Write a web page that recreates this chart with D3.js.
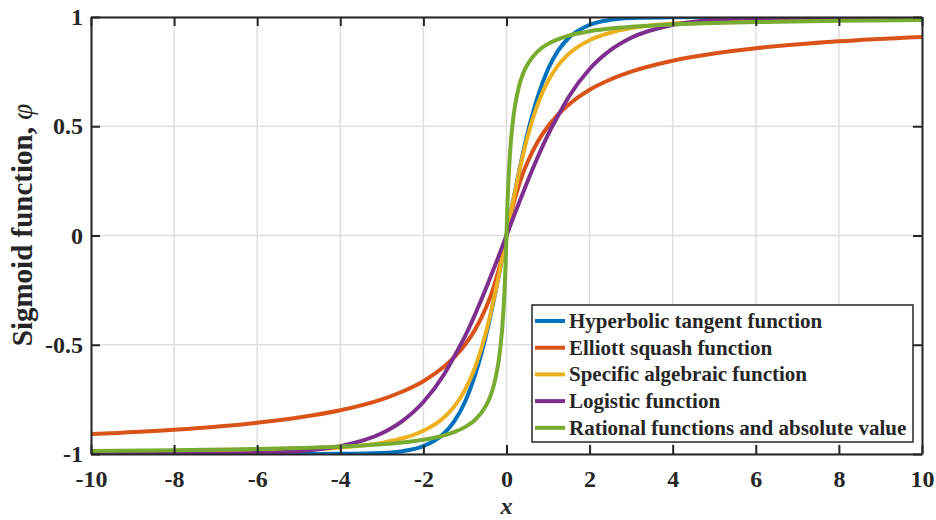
<!DOCTYPE html>
<html>
<head>
<meta charset="utf-8">
<script src="https://cdn.jsdelivr.net/npm/d3@7"></script>
<style>
  body { margin: 0; background: #fff; }
  svg text { font-family: "Liberation Serif", "Times New Roman", serif; font-weight: bold; fill: #262626; }
</style>
</head>
<body>
<svg id="chart" width="936" height="520"></svg>
<script>
// sample points along x
var xValues = [-10, -8, -6, -5, -4, -3, -2.5, -2, -1.5, -1.25, -1, -0.75, -0.5, -0.4, -0.3, -0.2, -0.15, -0.1, -0.05, -0.025,
  0, 0.025, 0.05, 0.1, 0.15, 0.2, 0.3, 0.4, 0.5, 0.75, 1, 1.25, 1.5, 2, 2.5, 3, 4, 5, 6, 8, 10];

var tanhValues = [-1, -1, -1, -1, -0.999, -0.995, -0.987, -0.964, -0.905, -0.848, -0.762, -0.635, -0.462, -0.38, -0.291, -0.197, -0.149, -0.1, -0.05, -0.025,
  0, 0.025, 0.05, 0.1, 0.149, 0.197, 0.291, 0.38, 0.462, 0.635, 0.762, 0.848, 0.905, 0.964, 0.987, 0.995, 0.999, 1, 1, 1, 1];

var elliottValues = [-0.909, -0.889, -0.857, -0.833, -0.8, -0.75, -0.714, -0.667, -0.6, -0.556, -0.5, -0.429, -0.333, -0.286, -0.231, -0.167, -0.13, -0.091, -0.048, -0.024,
  0, 0.024, 0.048, 0.091, 0.13, 0.167, 0.231, 0.286, 0.333, 0.429, 0.5, 0.556, 0.6, 0.667, 0.714, 0.75, 0.8, 0.833, 0.857, 0.889, 0.909];

var algebraicValues = [-0.995, -0.992, -0.986, -0.981, -0.97, -0.949, -0.928, -0.894, -0.832, -0.781, -0.707, -0.6, -0.447, -0.371, -0.287, -0.196, -0.148, -0.0995, -0.05, -0.025,
  0, 0.025, 0.05, 0.0995, 0.148, 0.196, 0.287, 0.371, 0.447, 0.6, 0.707, 0.781, 0.832, 0.894, 0.928, 0.949, 0.97, 0.981, 0.986, 0.992, 0.995];

var logisticValues = [-1, -0.999, -0.995, -0.987, -0.964, -0.905, -0.848, -0.762, -0.635, -0.551, -0.462, -0.358, -0.245, -0.197, -0.149, -0.1, -0.075, -0.05, -0.025, -0.0125,
  0, 0.0125, 0.025, 0.05, 0.075, 0.1, 0.149, 0.197, 0.245, 0.358, 0.462, 0.551, 0.635, 0.762, 0.848, 0.905, 0.964, 0.987, 0.995, 0.999, 1];

var rationalValues = [-0.986, -0.983, -0.977, -0.973, -0.966, -0.955, -0.947, -0.935, -0.915, -0.899, -0.877, -0.843, -0.781, -0.741, -0.682, -0.588, -0.517, -0.417, -0.263, -0.152,
  0, 0.152, 0.263, 0.417, 0.517, 0.588, 0.682, 0.741, 0.781, 0.843, 0.877, 0.899, 0.915, 0.935, 0.947, 0.955, 0.966, 0.973, 0.977, 0.983, 0.986];

var seriesNames = ['Hyperbolic tangent function', 'Elliott squash function', 'Specific algebraic function',
  'Logistic function', 'Rational functions and absolute value'];
var seriesColors = ['#0072BD', '#D95319', '#EDB120', '#7E2F8E', '#77AC30'];
var seriesValues = [tanhValues, elliottValues, algebraicValues, logisticValues, rationalValues];

var xTicks = [-10, -8, -6, -4, -2, 0, 2, 4, 6, 8, 10];
var yTicks = [-1, -0.5, 0, 0.5, 1];

var margin = {top: 17, right: 14, bottom: 66, left: 91};
var width = 936 - margin.left - margin.right;
var height = 520 - margin.top - margin.bottom;

var svg = d3.select('#chart');
var g = svg.append('g').attr('transform', 'translate(' + margin.left + ',' + margin.top + ')');

var x = d3.scaleLinear().domain([-10, 10]).range([0, width]);
var y = d3.scaleLinear().domain([-1, 1]).range([height, 0]);

// grid
g.append('g').selectAll('line').data(xTicks).enter().append('line')
  .attr('x1', function(d) { return x(d); }).attr('x2', function(d) { return x(d); })
  .attr('y1', 0).attr('y2', height)
  .attr('stroke', '#dfdfdf').attr('stroke-width', 1.5);
g.append('g').selectAll('line').data(yTicks).enter().append('line')
  .attr('y1', function(d) { return y(d); }).attr('y2', function(d) { return y(d); })
  .attr('x1', 0).attr('x2', width)
  .attr('stroke', '#dfdfdf').attr('stroke-width', 1.5);

// curves
g.append('clipPath').attr('id', 'plot-clip').append('rect')
  .attr('x', 0).attr('y', 0).attr('width', width).attr('height', height);

var line = d3.line()
  .x(function(d) { return x(d[0]); })
  .y(function(d) { return y(d[1]); })
  .curve(d3.curveMonotoneX);

g.append('g').attr('clip-path', 'url(#plot-clip)')
  .selectAll('path').data(seriesValues).enter().append('path')
  .attr('d', function(vals) { return line(d3.zip(xValues, vals)); })
  .attr('fill', 'none')
  .attr('stroke', function(d, i) { return seriesColors[i]; })
  .attr('stroke-width', 4)
  .attr('stroke-linejoin', 'round');

// axes, ticks pointing inwards like matlab
var fmt = function(d) { return String(d).replace('\u2212', '-'); };
var styleAxis = function(sel) {
  sel.select('.domain').attr('stroke', '#262626').attr('stroke-width', 2);
  sel.selectAll('.tick line').attr('stroke', '#262626').attr('stroke-width', 2);
  sel.selectAll('text').attr('font-size', 24).attr('fill', '#262626')
    .attr('font-family', '"Liberation Serif", "Times New Roman", serif').attr('font-weight', 'bold');
};

g.append('g').attr('transform', 'translate(0,' + height + ')')
  .call(d3.axisBottom(x).tickValues(xTicks).tickFormat(fmt).tickSizeInner(-9).tickSizeOuter(0).tickPadding(16))
  .call(styleAxis);
g.append('g')
  .call(d3.axisLeft(y).tickValues(yTicks).tickFormat(fmt).tickSizeInner(-9).tickSizeOuter(0).tickPadding(8))
  .call(styleAxis);
g.append('g')
  .call(d3.axisTop(x).tickValues(xTicks).tickFormat('').tickSizeInner(-9).tickSizeOuter(0))
  .call(styleAxis);
g.append('g').attr('transform', 'translate(' + width + ',0)')
  .call(d3.axisRight(y).tickValues(yTicks).tickFormat('').tickSizeInner(-9).tickSizeOuter(0))
  .call(styleAxis);

// axis titles
svg.append('text')
  .attr('x', margin.left + x(0)).attr('y', 514)
  .attr('text-anchor', 'middle').attr('font-size', 24).attr('font-style', 'italic')
  .text('x');

var ylab = svg.append('text')
  .attr('transform', 'translate(32,225) rotate(-90)')
  .attr('text-anchor', 'middle').attr('font-size', 29);
ylab.append('tspan').text('Sigmoid function, ');
ylab.append('tspan').attr('font-style', 'italic').attr('font-weight', 'normal').text('\u03c6');

// legend
var legend = svg.append('g').attr('transform', 'translate(532,305)');
legend.append('rect').attr('width', 381).attr('height', 137)
  .attr('fill', '#fff').attr('stroke', '#262626').attr('stroke-width', 1.5);
var rows = legend.selectAll('g.row').data(seriesNames).enter().append('g')
  .attr('class', 'row')
  .attr('transform', function(d, i) { return 'translate(0,' + (16 + i * 26.7) + ')'; });
rows.append('line').attr('x1', 3).attr('x2', 33)
  .attr('stroke', function(d, i) { return seriesColors[i]; }).attr('stroke-width', 4);
rows.append('text').attr('x', 37).attr('dy', '0.33em').attr('font-size', 21)
  .text(function(d) { return d; });
</script>
</body>
</html>
